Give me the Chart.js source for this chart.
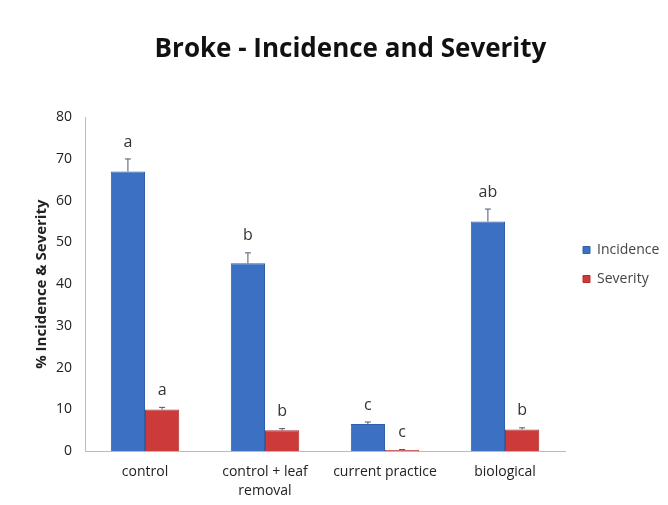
<!DOCTYPE html>
<html>
<head>
<meta charset="utf-8">
<script src="https://cdn.jsdelivr.net/npm/chart.js@4"></script>
<style>
  html, body { margin: 0; padding: 0; background: #fff; }
  #wrap { width: 668px; height: 505px; }
</style>
</head>
<body>
<div id="wrap"><canvas id="chart"></canvas></div>
<script>
const categories = ['control', ['control + leaf', 'removal'], 'current practice', 'biological'];
const incidence = [67, 45, 6.5, 55];
const severity = [10, 5, 0.3, 5.2];
const incidenceErr = [3, 2.5, 0.5, 3];
const severityErr = [0.5, 0.4, 0.1, 0.4];
const incidenceLetters = ['a', 'b', 'c', 'ab'];
const severityLetters = ['a', 'b', 'c', 'b'];
const yTicks = [0, 10, 20, 30, 40, 50, 60, 70, 80];

const errors = [incidenceErr, severityErr];
const letters = [incidenceLetters, severityLetters];
const FONT = '"Open Sans", sans-serif';

// error bars + significance letters over each bar
const annotate = {
  id: 'annotate',
  afterDatasetsDraw(chart) {
    const ctx = chart.ctx;
    const y = chart.scales.y;
    ctx.save();
    chart.data.datasets.forEach((ds, di) => {
      chart.getDatasetMeta(di).data.forEach((bar, i) => {
        const top = y.getPixelForValue(ds.data[i] + errors[di][i]);
        ctx.strokeStyle = '#4a5a70';
        ctx.lineWidth = 1;
        ctx.beginPath();
        ctx.moveTo(bar.x, bar.y);
        ctx.lineTo(bar.x, top);
        ctx.moveTo(bar.x - 3, top);
        ctx.lineTo(bar.x + 3, top);
        ctx.stroke();
        ctx.fillStyle = '#333';
        ctx.font = '16px ' + FONT;
        ctx.textAlign = 'center';
        ctx.textBaseline = 'bottom';
        ctx.fillText(letters[di][i], bar.x, top - 9);
      });
    });
    ctx.restore();
  }
};

// legend: fixed box width, items nudged to where the original has them
const legendNudge = {
  id: 'legendNudge',
  afterInit(chart) {
    const lg = chart.legend;
    const fit = lg.fit;
    lg.fit = function() {
      fit.call(this);
      this.width = 103;
    };
  },
  afterLayout(chart) {
    const lg = chart.legend;
    lg.left += 3; lg.right += 3;
    lg.top += 13; lg.bottom += 13;
  }
};

window.onload = function() {
  new Chart(document.getElementById('chart'), {
    type: 'bar',
    data: {
      labels: categories,
      datasets: [{
        label: 'Incidence',
        data: incidence,
        backgroundColor: '#3c70c2',
        borderColor: '#2f5fa8',
        borderWidth: 1,
        categoryPercentage: 0.57,
        barPercentage: 1
      }, {
        label: 'Severity',
        data: severity,
        backgroundColor: '#cc3a3a',
        borderColor: '#b03030',
        borderWidth: 1,
        categoryPercentage: 0.57,
        barPercentage: 1
      }]
    },
    options: {
      responsive: true,
      maintainAspectRatio: false,
      animation: false,
      layout: { padding: { left: 33, right: 0, top: 0, bottom: 2 } },
      plugins: {
        title: {
          display: true,
          text: 'Broke - Incidence and Severity',
          color: '#111',
          font: { family: FONT, size: 26, weight: 'bold' },
          padding: { top: 34, bottom: 52 }
        },
        legend: {
          position: 'right',
          labels: {
            color: '#444',
            font: { family: FONT, size: 14 },
            boxWidth: 7,
            boxHeight: 7,
            padding: 15
          }
        },
        tooltip: { enabled: false }
      },
      scales: {
        x: {
          grid: { display: false },
          border: { color: '#bbb' },
          ticks: {
            color: '#222',
            font: { family: FONT, size: 14, lineHeight: 1.35 },
            maxRotation: 0,
            autoSkip: false
          }
        },
        y: {
          min: 0,
          max: 80,
          afterBuildTicks(axis) { axis.ticks = yTicks.map(v => ({ value: v })); },
          grid: { display: false },
          border: { color: '#bbb' },
          ticks: {
            color: '#222',
            font: { family: FONT, size: 14 },
            padding: 5
          },
          title: {
            display: true,
            text: '% Incidence & Severity',
            color: '#222',
            font: { family: FONT, size: 15, weight: 'bold' },
            padding: 0
          }
        }
      }
    },
    plugins: [annotate, legendNudge]
  });
};
</script>
</body>
</html>
